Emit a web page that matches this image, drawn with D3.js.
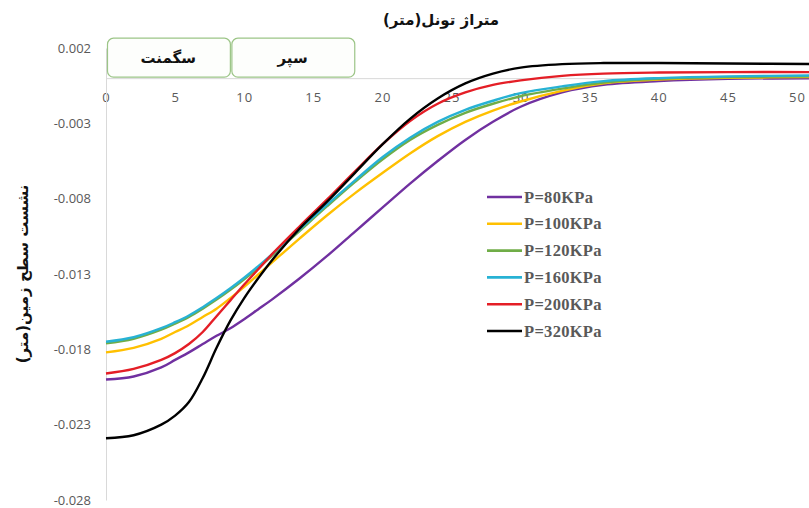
<!DOCTYPE html>
<html><head><meta charset="utf-8">
<script src="https://cdn.jsdelivr.net/npm/d3@7"></script>
<style>body{margin:0;background:#fff;} svg{display:block;background:#fff;}</style>
</head><body><svg id="c" width="809" height="508"></svg>
<script>
// ---- data ----
const distance = [0,2,4,5,6,7,8,9,10,11,12,14,16,18,20,22,24,26,28,30,33,36,40,45,52];
const p80  = [-0.0200,-0.0198,-0.0192,-0.01870,-0.0182,-0.01765,-0.0171,-0.0166,-0.0160,-0.01535,-0.0147,-0.0133,-0.0118,-0.0102,-0.0086,-0.0070,-0.0055,-0.0041,-0.0029,-0.0019,-0.00095,-0.00045,-0.0002,-0.00005,0.0000];
const p100 = [-0.0182,-0.0179,-0.0173,-0.01685,-0.0164,-0.01585,-0.0153,-0.0146,-0.01385,-0.01305,-0.01225,-0.01065,-0.0091,-0.00765,-0.0063,-0.0050,-0.00385,-0.0029,-0.00215,-0.00155,-0.00085,-0.00035,-0.0001,0.00002,0.00007];
const p120 = [-0.0176,-0.0173,-0.0167,-0.0163,-0.01585,-0.0153,-0.0147,-0.01405,-0.01335,-0.0126,-0.0118,-0.01015,-0.0085,-0.0069,-0.0054,-0.0041,-0.0031,-0.0023,-0.0017,-0.0012,-0.0007,-0.0003,-0.00005,0.00007,0.00012];
const p160 = [-0.0175,-0.0172,-0.0166,-0.0162,-0.01575,-0.0152,-0.0146,-0.01395,-0.01325,-0.0125,-0.0117,-0.01005,-0.0084,-0.0068,-0.00525,-0.00395,-0.0029,-0.0021,-0.0015,-0.0010,-0.00055,-0.0002,0.0000,0.00012,0.00018];
const p200 = [-0.0196,-0.0193,-0.0187,-0.01825,-0.01765,-0.01685,-0.0158,-0.01475,-0.0137,-0.0127,-0.0117,-0.00985,-0.00805,-0.0062,-0.0044,-0.00285,-0.0017,-0.00095,-0.00045,-0.00015,0.00015,0.0003,0.00037,0.0004,0.0004];
const p320 = [-0.0239,-0.0237,-0.0230,-0.0224,-0.0215,-0.0199,-0.0179,-0.0161,-0.0146,-0.0133,-0.0121,-0.0100,-0.0082,-0.0063,-0.0044,-0.0027,-0.00135,-0.00035,0.0003,0.0007,0.00093,0.0010,0.0010,0.00097,0.00093];
const seriesNames = ["P=80KPa","P=100KPa","P=120KPa","P=160KPa","P=200KPa","P=320KPa"];
const seriesValues = [p80,p100,p120,p160,p200,p320];
const seriesColors = ["#7030a0","#ffc000","#70ad47","#27b2d4","#e41e26","#000000"];
const xTicks = [0,5,10,15,20,25,30,35,40,45,50];
const yTicks = [0.002,-0.003,-0.008,-0.013,-0.018,-0.023,-0.028];
const zoneLabels = ["سگمنت","سپر"];
const zoneStart = [0,9];
const zoneEnd = [9,18];
const zoneTop = 0.00265;
const chartTitle = "متراژ تونل(متر)";
const yTitle = "نشست سطح زمین(متر)";

// ---- drawing ----
const svg = d3.select("#c");
const x = d3.scaleLinear().domain([0,52]).range([106, 106+52*13.82]);
const y = d3.scaleLinear().domain([-0.028,0.002]).range([500,48]);

// axes
const gx = svg.append("g").attr("transform",`translate(0,${y(0)})`)
  .call(d3.axisBottom(x).tickValues(xTicks).tickSize(0).tickPadding(15));
gx.select(".domain").attr("stroke","#d9d9d9").attr("stroke-width",1);
gx.selectAll("text").attr("fill","#595959").style("font-family","'Open Sans', sans-serif").style("font-size","13px").style("letter-spacing","1px");

const gy = svg.append("g").attr("transform",`translate(${x(0)},0)`)
  .call(d3.axisLeft(y).tickValues(yTicks).tickSize(0).tickPadding(15)
    .tickFormat(d=>d3.format(".3f")(d).replace("\u2212","-")));
gy.select(".domain").attr("stroke","#d9d9d9").attr("stroke-width",1);
gy.selectAll("text").attr("fill","#595959").style("font-family","'Open Sans', sans-serif").style("font-size","13px");

// zone boxes
const zones = zoneLabels.map((l,i)=>({l, a:zoneStart[i], b:zoneEnd[i]}));
const zg = svg.append("g");
zg.selectAll("rect").data(zones).join("rect")
  .attr("x",d=>x(d.a)+1.5).attr("width",d=>x(d.b)-x(d.a)-1.5)
  .attr("y",y(zoneTop)).attr("height",y(0)-y(zoneTop)-1)
  .attr("rx",6).attr("fill","#fdfefc").attr("stroke","#9cc587").attr("stroke-width",1.2);
zg.selectAll("text").data(zones).join("text")
  .attr("x",d=>(x(d.a)+x(d.b))/2).attr("y",(y(zoneTop)+y(0))/2+5)
  .attr("text-anchor","middle").attr("direction","rtl")
  .style("font-family","'DejaVu Sans', sans-serif").style("font-weight","bold").style("font-size","15px")
  .attr("fill","#111").text(d=>d.l);

// lines
const line = d3.line().x((d,i)=>x(distance[i])).y(d=>y(d)).curve(d3.curveCatmullRom.alpha(0.5));
svg.append("g").selectAll("path").data(seriesValues).join("path")
  .attr("d",line).attr("fill","none")
  .attr("stroke",(d,i)=>seriesColors[i]).attr("stroke-width",2.4);

// titles
svg.append("text").attr("x",441).attr("y",25).attr("text-anchor","middle").attr("direction","rtl")
  .style("font-family","'DejaVu Sans', sans-serif").style("font-weight","bold").style("font-size","15px")
  .attr("fill","#111").text(chartTitle);
svg.append("text").attr("transform","translate(28,274) rotate(-90)").attr("text-anchor","middle").attr("direction","rtl")
  .style("font-family","'DejaVu Sans', sans-serif").style("font-weight","bold").style("font-size","15px")
  .attr("fill","#111").text(yTitle);

// legend
const lg = svg.append("g");
const rows = lg.selectAll("g").data(seriesNames).join("g")
  .attr("transform",(d,i)=>`translate(487,${197+i*26.8})`);
rows.append("line").attr("x1",0).attr("x2",35).attr("y1",0).attr("y2",0)
  .attr("stroke",(d,i)=>seriesColors[i]).attr("stroke-width",2.6);
rows.append("text").attr("x",37).attr("y",5.5).text(d=>d)
  .style("font-family","'Liberation Serif', serif").style("font-weight","bold").style("font-size","16.5px")
  .style("letter-spacing","0.3px").attr("fill","#595959");
</script></body></html>
